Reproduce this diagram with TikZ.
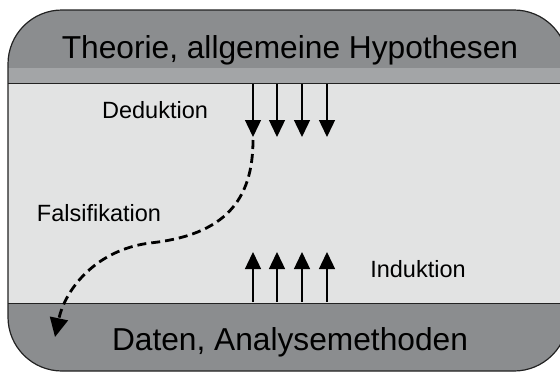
\documentclass[tikz,border=0pt]{standalone}
\usepackage{fontspec}
\setmainfont{Liberation Sans}
\usetikzlibrary{arrows.meta}
\definecolor{darkband}{HTML}{8B8D8F}
\definecolor{midband}{HTML}{A3A5A7}
\definecolor{lightarea}{HTML}{E2E3E3}
\definecolor{edgecol}{HTML}{222222}
\tikzset{
  bigtext/.style={font=\fontsize{31.7}{38}\selectfont, text=black, inner sep=0pt, anchor=base},
  smalltext/.style={font=\fontsize{23.5}{28}\selectfont, text=black, inner sep=0pt, anchor=base},
  flow/.style={line width=1.4pt, -{Triangle[length=17pt,width=16pt]}},
  falsi/.style={line width=2.8pt, dash pattern=on 9pt off 5pt, -{Triangle[length=19pt,width=18pt]}}
}
\begin{document}
\begin{tikzpicture}[x=1pt,y=-1pt]
\useasboundingbox (0,0) rectangle (560,373);
\begin{scope}
  \clip[rounded corners=54pt] (8,10) rectangle (568,371);
  \fill[lightarea] (0,0) rectangle (570,380);
  \fill[darkband] (0,0) rectangle (570,68);
  \fill[midband] (0,68) rectangle (570,83);
  \fill[darkband] (0,303) rectangle (570,380);
  \draw[edgecol, line width=1pt] (0,83.5) -- (570,83.5);
  \draw[edgecol, line width=1pt] (0,303) -- (570,303);
\end{scope}
\draw[edgecol, line width=1.2pt, rounded corners=54pt] (8,10) rectangle (568,371);

\node[bigtext] (theo) at (290,58) {Theorie, allgemeine Hypothesen};
\node[bigtext] (daten) at (290,350) {Daten, Analysemethoden};
\node[smalltext] (ded) at (155,118) {Deduktion};
\node[smalltext] (fal) at (99,221) {Falsifikation};
\node[smalltext] (ind) at (418,277) {Induktion};

\foreach \i/\x in {1/253,2/277,3/302,4/327}{
  \coordinate (dtop\i) at (\x,84);
  \coordinate (dbot\i) at (\x,137);
  \coordinate (ubot\i) at (\x,302);
  \coordinate (utop\i) at (\x,252);
  \draw[flow] (dtop\i) -- (dbot\i);
  \draw[flow] (ubot\i) -- (utop\i);
}

\coordinate (fstart) at (253,140);
\coordinate (fmid) at (150,243);
\coordinate (fend) at (55,337);
\draw[falsi] (fstart) .. controls (253,200) and (225,235) .. (fmid)
  .. controls (95,250) and (65,290) .. (fend);
\end{tikzpicture}
\end{document}
